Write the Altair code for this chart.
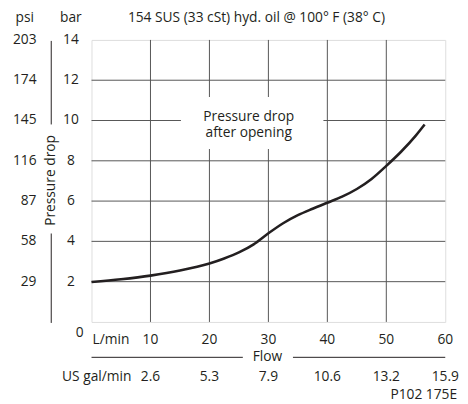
import altair as alt
import pandas as pd

# Data
flow = [0, 5, 10, 15, 20, 22.5, 25, 27.5, 30, 32.5, 35, 37.5, 40, 42.5, 45, 47.5, 50, 52.5, 55, 56.5]
pressure = [1.98, 2.12, 2.3, 2.55, 2.9, 3.15, 3.45, 3.85, 4.4, 4.9, 5.3, 5.62, 5.92, 6.22, 6.6, 7.1, 7.75, 8.45, 9.25, 9.8]

bar_ticks = [14, 12, 10, 8, 6, 4, 2]
psi_labels = ["203", "174", "145", "116", "87", "58", "29"]
flow_ticks = [10, 20, 30, 40, 50, 60]
gal_labels = ["2.6", "5.3", "7.9", "10.6", "13.2", "15.9"]
vgrid = [10, 20, 30, 40, 50]
hgrid = [2, 4, 6, 8, 10, 12]

FONT = "Open Sans"
FS = 14
W, H = 360, 287
INK = "#231f20"

curve_df = pd.DataFrame({"flow": flow, "p": pressure})
ytick_df = pd.DataFrame({"bar": bar_ticks, "psi": psi_labels, "barlab": [str(b) for b in bar_ticks]})
xtick_df = pd.DataFrame({"flow": flow_ticks, "lab": [str(f) for f in flow_ticks], "gal": gal_labels})
vgrid_df = pd.DataFrame({"flow": vgrid})
hgrid_df = pd.DataFrame({"bar": hgrid})
one = pd.DataFrame({"k": [0]})

xs = alt.Scale(domain=[0, 60], nice=False, zero=False)
ys = alt.Scale(domain=[0, 14], nice=False, zero=False)

GRID = "#555555"

vg = alt.Chart(vgrid_df).mark_rule(color=GRID, strokeWidth=1).encode(
    x=alt.X("flow:Q", scale=xs, axis=None))
hg = alt.Chart(hgrid_df).mark_rule(color=GRID, strokeWidth=1).encode(
    y=alt.Y("bar:Q", scale=ys, axis=None))

box = alt.Chart(one).mark_rect(fill="white").encode(
    x=alt.value(91), x2=alt.value(236), y=alt.value(58), y2=alt.value(111))

def txt(s, x, y, align="center", angle=None, size=FS):
    kw = dict(text=s, align=align, baseline="middle", font=FONT, fontSize=size, color=INK)
    if angle is not None:
        kw["angle"] = angle
    return alt.Chart(one).mark_text(**kw).encode(x=alt.value(x), y=alt.value(y))

box_t1 = txt("Pressure drop", 160, 78)
box_t2 = txt("after opening", 160, 95)

line = alt.Chart(curve_df).mark_line(color=INK, strokeWidth=2.6, interpolate="monotone").encode(
    x=alt.X("flow:Q", scale=xs, axis=None),
    y=alt.Y("p:Q", scale=ys, axis=None))

psi_t = alt.Chart(ytick_df).mark_text(align="right", baseline="middle", font=FONT, fontSize=FS, color=INK).encode(
    y=alt.Y("bar:Q", scale=ys, axis=None), x=alt.value(-56), text="psi:N")
bar_t = alt.Chart(ytick_df).mark_text(align="center", baseline="middle", font=FONT, fontSize=FS, color=INK).encode(
    y=alt.Y("bar:Q", scale=ys, axis=None), x=alt.value(-21), text="barlab:N")

flow_t = alt.Chart(xtick_df).mark_text(align="center", baseline="middle", font=FONT, fontSize=FS, color=INK).encode(
    x=alt.X("flow:Q", scale=xs, axis=None), y=alt.value(305), text="lab:N")
gal_t = alt.Chart(xtick_df).mark_text(align="center", baseline="middle", font=FONT, fontSize=FS, color=INK).encode(
    x=alt.X("flow:Q", scale=xs, axis=None), y=alt.value(343), text="gal:N")

zero_t = txt("0", -12, 298)
psi_h = txt("psi", -68, -22)
bar_h = txt("bar", -21, -22)
title_t = txt("154 SUS (33 cSt) hyd. oil @ 100° F (38° C)", 37, -22, align="left")
lmin_t = txt("L/min", 1, 305, align="left")
flow_lab = txt("Flow", 179, 323)
gal_h = txt("US gal/min", -30, 343, align="left")
code_t = txt("P102 175E", 372, 361, align="right")
ytitle = txt("Pressure drop", -41, 143, angle=270)

def rule(x1, x2, y1, y2):
    return alt.Chart(one).mark_rule(color=INK, strokeWidth=1).encode(
        x=alt.value(x1), x2=alt.value(x2), y=alt.value(y1), y2=alt.value(y2))

r1 = rule(-41, -41, 1, 86)
r2 = rule(-41, -41, 197, 288)
r3 = rule(0, 154, 323, 323)
r4 = rule(205, 360, 323, 323)

chart = alt.layer(
    vg, hg, box, box_t1, box_t2, line, psi_t, bar_t, flow_t, gal_t,
    zero_t, psi_h, bar_h, title_t, lmin_t, flow_lab, gal_h, code_t, ytitle,
    r1, r2, r3, r4,
).properties(
    width=W, height=H,
    autosize=alt.AutoSizeParams(type="none"),
    padding={"left": 85, "top": 29, "right": 15, "bottom": 80},
).configure_view(stroke="#333333", strokeWidth=1.3).configure(background="white")

chart.save("out.html", embed_options={"renderer": "svg", "actions": False})
